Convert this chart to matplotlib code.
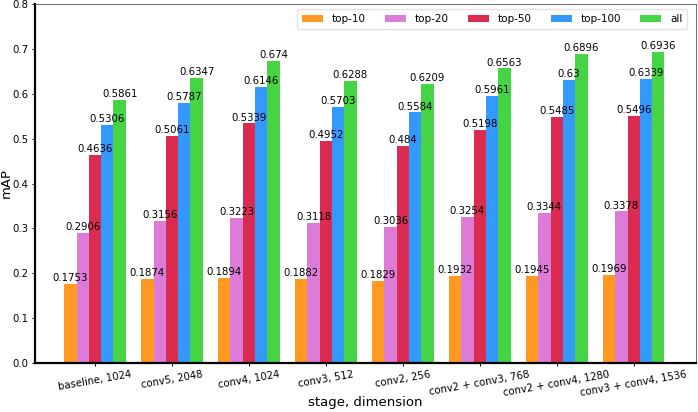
import numpy as np
import matplotlib
matplotlib.use('Agg')
import matplotlib.pyplot as plt

categories = ['baseline, 1024', 'conv5, 2048', 'conv4, 1024', 'conv3, 512', 'conv2, 256',
              'conv2 + conv3, 768', 'conv2 + conv4, 1280', 'conv3 + conv4, 1536']
series_names = ['top-10', 'top-20', 'top-50', 'top-100', 'all']
top10 = [0.1753, 0.1874, 0.1894, 0.1882, 0.1829, 0.1932, 0.1945, 0.1969]
top20 = [0.2906, 0.3156, 0.3223, 0.3118, 0.3036, 0.3254, 0.3344, 0.3378]
top50 = [0.4636, 0.5061, 0.5339, 0.4952, 0.484, 0.5198, 0.5485, 0.5496]
top100 = [0.5306, 0.5787, 0.6146, 0.5703, 0.5584, 0.5961, 0.63, 0.6339]
all_ = [0.5861, 0.6347, 0.674, 0.6288, 0.6209, 0.6563, 0.6896, 0.6936]
colors = ['#ff9922', '#dc7cd8', '#dc2b50', '#3399ff', '#44d444']

fs = 7.3
fig = plt.figure(figsize=(6.98, 4.12), dpi=100)
ax = fig.add_axes([35/698, 49/412, 661/698, 359/412])

x = np.arange(len(categories))
w = 0.16
for i, (name, vals) in enumerate(zip(series_names, [top10, top20, top50, top100, all_])):
    pos = x + (i - 2) * w
    ax.bar(pos, vals, w, color=colors[i], label=name)
    for p, v in zip(pos, vals):
        ax.text(p, v + 0.002, str(v), ha='center', va='bottom', fontsize=fs)

ax.set_xlim(-0.78, 7.81)
ax.set_ylim(0, 0.8)
ax.set_yticks(np.arange(0, 0.81, 0.1))
ax.set_yticklabels(['%.1f' % t for t in np.arange(0, 0.81, 0.1)], fontsize=fs)
ax.set_xticks(x)
ax.set_xticklabels(categories, rotation=10, fontsize=fs)
ax.tick_params(length=2.5, width=0.7, pad=2)
ax.set_xlabel('stage, dimension', fontsize=9.5)
ax.set_ylabel('mAP', fontsize=9.5)
ax.yaxis.set_label_coords(-0.033, 0.5)
ax.xaxis.set_label_coords(0.5, -0.093)

ax.spines['left'].set_linewidth(1.6)
ax.spines['bottom'].set_linewidth(1.6)
for s in ['top', 'right']:
    ax.spines[s].set_color('#555555')
    ax.spines[s].set_linewidth(0.6)

ax.legend(ncol=5, loc='upper right', fontsize=fs + 0.2, columnspacing=1.8,
          handlelength=2.0, handletextpad=0.9, borderpad=0.45, edgecolor='#dddddd',
          bbox_to_anchor=(0.995, 1.0))

fig.savefig('out.png', dpi=100)
